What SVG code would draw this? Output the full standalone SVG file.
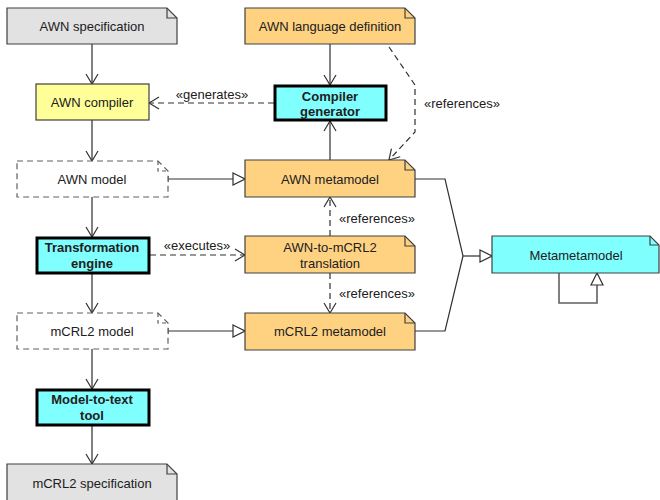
<svg xmlns="http://www.w3.org/2000/svg" width="660" height="500" viewBox="0 0 660 500">
<defs>
<style>
text{font-family:"Liberation Sans",Arial,sans-serif;font-size:13px;fill:#202020;text-anchor:middle;dominant-baseline:central}
.b{font-weight:bold}
.lbl{font-size:13px}
.note{stroke:#404040;stroke-width:1.2}
.gray{fill:#e2e2e2}
.orange{fill:#ffd282}
.cyan{fill:#80ffff}
.fold{fill:none;stroke:#404040;stroke-width:1.2}
.dash{fill:#fff;stroke:#606060;stroke-width:1.2;stroke-dasharray:6,4}
.dfold{fill:none;stroke:#606060;stroke-width:1.2;stroke-dasharray:4,3}
.tool{fill:#80ffff;stroke:#000;stroke-width:3}
.c{fill:none;stroke:#303030;stroke-width:1.2}
.cg{fill:none;stroke:#606060;stroke-width:1.6}
.cd{fill:none;stroke:#303030;stroke-width:1.2;stroke-dasharray:6,4}
</style>
<marker id="open" markerUnits="userSpaceOnUse" viewBox="0 0 12 14" refX="11" refY="7" markerWidth="12" markerHeight="14" orient="auto">
<path d="M1,1 L11,7 L1,13" fill="none" stroke="#303030" stroke-width="1.2"/>
</marker>
<marker id="tri" markerUnits="userSpaceOnUse" viewBox="0 0 14 14" refX="13" refY="7" markerWidth="14" markerHeight="14" orient="auto">
<path d="M1,1 L13,7 L1,13 Z" fill="#fff" stroke="#303030" stroke-width="1.2"/>
</marker>
</defs>

<g id="connectors">
<line class="cg" x1="92" y1="44" x2="92" y2="84" marker-end="url(#open)"/>
<line class="cg" x1="92" y1="120" x2="92" y2="161" marker-end="url(#open)"/>
<line class="cg" x1="92" y1="197" x2="92" y2="237" marker-end="url(#open)"/>
<line class="cg" x1="92" y1="274" x2="92" y2="313" marker-end="url(#open)"/>
<line class="cg" x1="92" y1="349" x2="92" y2="389" marker-end="url(#open)"/>
<line class="cg" x1="92" y1="426" x2="92" y2="464" marker-end="url(#open)"/>
<line class="c" x1="330" y1="44" x2="330" y2="85" marker-end="url(#open)"/>
<line class="c" x1="330" y1="160" x2="330" y2="121" marker-end="url(#open)"/>
<line class="cd" x1="274" y1="103" x2="149" y2="103" marker-end="url(#open)"/>
<path class="cd" d="M389,47 L415,85 L415,132 L389,160" marker-end="url(#open)"/>
<line class="c" x1="168" y1="179" x2="245" y2="179" marker-end="url(#tri)"/>
<line class="c" x1="168" y1="176" x2="168" y2="182"/>
<line class="c" x1="168" y1="331" x2="245" y2="331" marker-end="url(#tri)"/>
<line class="c" x1="168" y1="328" x2="168" y2="334"/>
<line class="cd" x1="150" y1="255" x2="245" y2="255" marker-end="url(#open)"/>
<line class="cd" x1="330" y1="236" x2="330" y2="197" marker-end="url(#open)"/>
<line class="cd" x1="330" y1="273" x2="330" y2="313" marker-end="url(#open)"/>
<path class="c" d="M415,179 L445,179 L463,256"/>
<path class="c" d="M415,331 L445,331 L463,256"/>
<line class="c" x1="463" y1="256" x2="492" y2="256" marker-end="url(#tri)"/>
<path class="cg" d="M559,273 L559,303 L597,303 L597,273" marker-end="url(#tri)"/>
<text class="lbl" x="212" y="94">«generates»</text>
<text class="lbl" x="462" y="103">«references»</text>
<text class="lbl" x="197" y="245">«executes»</text>
<text class="lbl" x="377" y="218">«references»</text>
<text class="lbl" x="377" y="293">«references»</text>
</g>

<g id="awn-specification">
<path class="note gray" d="M7,8 L167,8 L177,18 L177,44 L7,44 Z"/>
<path class="fold" d="M167,8 L167,18 L177,18"/>
<text x="92" y="26">AWN specification</text>
</g>

<g id="awn-language-definition">
<path class="note orange" d="M245,8 L405,8 L415,18 L415,44 L245,44 Z"/>
<path class="fold" d="M405,8 L405,18 L415,18"/>
<text x="330" y="26">AWN language definition</text>
</g>

<g id="awn-compiler">
<rect x="36" y="84" width="113" height="36" fill="#ffff99" stroke="#404040" stroke-width="1.2"/>
<text x="92" y="102">AWN compiler</text>
</g>

<g id="compiler-generator">
<rect class="tool" x="275" y="86" width="111" height="34"/>
<text class="b" x="330" y="96">Compiler</text>
<text class="b" x="330" y="111">generator</text>
</g>

<g id="awn-model">
<path class="dash" d="M17,161 L158,161 L168,171 L168,197 L17,197 Z"/>
<path class="dfold" d="M158,161 L158,171 L168,171"/>
<text x="92" y="179">AWN model</text>
</g>

<g id="awn-metamodel">
<path class="note orange" d="M245,160 L405,160 L415,170 L415,197 L245,197 Z"/>
<path class="fold" d="M405,160 L405,170 L415,170"/>
<text x="330" y="179">AWN metamodel</text>
</g>

<g id="transformation-engine">
<rect class="tool" x="37" y="238" width="112" height="35"/>
<text class="b" x="92" y="247">Transformation</text>
<text class="b" x="92" y="263">engine</text>
</g>

<g id="awn-to-mcrl2-translation">
<path class="note orange" d="M245,236 L405,236 L415,246 L415,273 L245,273 Z"/>
<path class="fold" d="M405,236 L405,246 L415,246"/>
<text x="330" y="247">AWN-to-mCRL2</text>
<text x="330" y="263">translation</text>
</g>

<g id="mcrl2-model">
<path class="dash" d="M17,313 L158,313 L168,323 L168,349 L17,349 Z"/>
<path class="dfold" d="M158,313 L158,323 L168,323"/>
<text x="92" y="331">mCRL2 model</text>
</g>

<g id="mcrl2-metamodel">
<path class="note orange" d="M245,313 L405,313 L415,323 L415,350 L245,350 Z"/>
<path class="fold" d="M405,313 L405,323 L415,323"/>
<text x="330" y="331">mCRL2 metamodel</text>
</g>

<g id="metametamodel">
<path class="note cyan" d="M492,236 L650,236 L659,245 L659,273 L492,273 Z"/>
<path class="fold" d="M650,236 L650,245 L659,245"/>
<text x="576" y="255">Metametamodel</text>
</g>

<g id="model-to-text-tool">
<rect class="tool" x="37" y="390" width="112" height="35"/>
<text class="b" x="92" y="399">Model-to-text</text>
<text class="b" x="92" y="415">tool</text>
</g>

<g id="mcrl2-specification">
<path class="note gray" d="M7,464 L167,464 L177,474 L177,501 L7,501 Z"/>
<path class="fold" d="M167,464 L167,474 L177,474"/>
<text x="92" y="483">mCRL2 specification</text>
</g>
</svg>
